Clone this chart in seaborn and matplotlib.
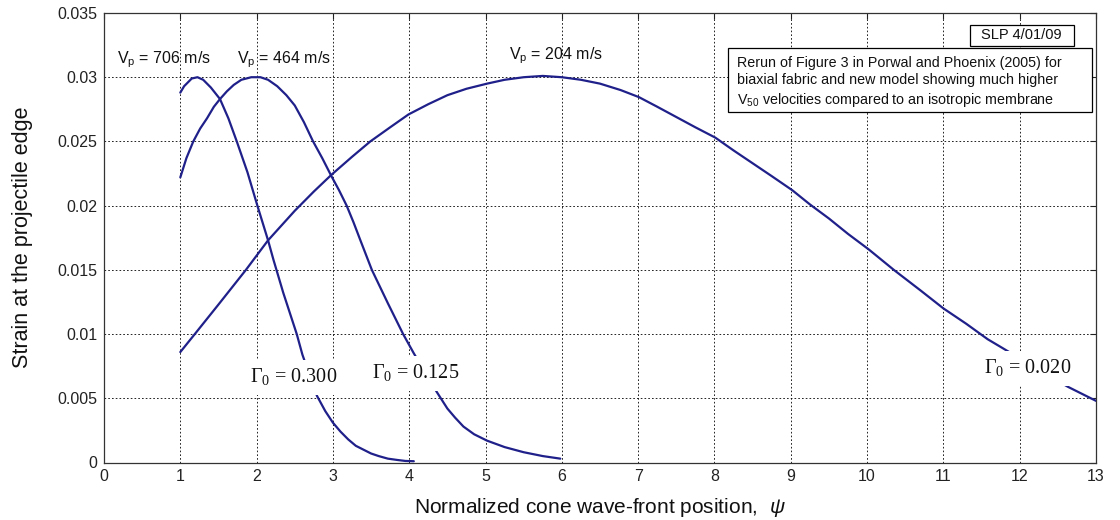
import numpy as np
import pandas as pd
import matplotlib
matplotlib.use("Agg")
import matplotlib.pyplot as plt
from matplotlib.patches import Rectangle
import seaborn as sns

# ---- data ----
psi_a = [1.00, 1.05, 1.10, 1.15, 1.225, 1.30, 1.40, 1.52, 1.63, 1.74, 1.88, 2.01, 2.15, 2.22, 2.35, 2.526,
         2.60, 2.70, 2.79, 2.90, 3.00, 3.10, 3.20, 3.30, 3.40, 3.50, 3.60, 3.72, 3.84, 3.95, 4.06]
eps_a = [0.0288, 0.0293, 0.0296, 0.0299, 0.0300, 0.0298, 0.0292, 0.0283, 0.0268, 0.0250, 0.0226, 0.0200, 0.0173,
         0.0158, 0.0132, 0.0100, 0.0084, 0.0067, 0.0052, 0.0040, 0.0031, 0.0024, 0.0018, 0.0013, 0.0010, 0.0007,
         0.0005, 0.0003, 0.0002, 0.00012, 0.0001]

psi_b = [1.00, 1.08, 1.17, 1.26, 1.35, 1.44, 1.52, 1.61, 1.70, 1.80, 1.93, 2.05, 2.15, 2.27, 2.39, 2.50, 2.62,
         2.74, 2.86, 2.98, 3.08, 3.18, 3.27, 3.36, 3.51, 3.72, 3.92, 4.06, 4.20, 4.36, 4.50, 4.60, 4.71, 4.85,
         5.02, 5.25, 5.50, 5.75, 5.98]
eps_b = [0.0222, 0.0237, 0.0250, 0.0260, 0.0268, 0.0277, 0.0283, 0.0289, 0.0294, 0.0298, 0.0300, 0.0300, 0.0298,
         0.0293, 0.0286, 0.0278, 0.0265, 0.0250, 0.0237, 0.0223, 0.0212, 0.0200, 0.0187, 0.0173, 0.0150, 0.0124,
         0.0100, 0.0085, 0.0071, 0.0055, 0.0042, 0.0035, 0.0028, 0.0022, 0.0017, 0.0012, 0.0008, 0.0005, 0.0003]

psi_c = [1.00, 1.19, 1.50, 1.86, 2.15, 2.50, 2.75, 2.98, 3.25, 3.49, 3.75, 3.99, 4.25, 4.50, 4.75, 5.02, 5.25,
         5.50, 5.75, 6.00, 6.25, 6.50, 6.77, 7.01, 7.25, 7.50, 7.75, 8.01, 8.25, 8.50, 8.75, 9.02, 9.25, 9.50,
         9.75, 10.02, 10.35, 10.70, 11.00, 11.30, 11.58, 11.75, 12.20, 12.63, 13.00]
eps_c = [0.0086, 0.0100, 0.0123, 0.0150, 0.0173, 0.0196, 0.0211, 0.0224, 0.0238, 0.0250, 0.0261, 0.0271, 0.0279,
         0.0286, 0.0291, 0.0295, 0.0298, 0.0300, 0.0301, 0.0300, 0.0298, 0.0295, 0.0290, 0.02845, 0.0277, 0.0269,
         0.0261, 0.0253, 0.0243, 0.0233, 0.0223, 0.0212, 0.0201, 0.0190, 0.0178, 0.0166, 0.0150, 0.0134, 0.0120,
         0.0108, 0.0096, 0.0090, 0.0074, 0.0059, 0.0048]

vp_labels = ["706", "464", "204"]
gamma_labels = ["0.300", "0.125", "0.020"]
x_ticks = list(range(0, 14))
y_ticks = [0, 0.005, 0.01, 0.015, 0.02, 0.025, 0.03, 0.035]
y_tick_labels = ["0", "0.005", "0.01", "0.015", "0.02", "0.025", "0.03", "0.035"]

# ---- style ----
sns.set_style("white")
plt.rcParams["font.family"] = ["Liberation Sans", "DejaVu Sans"]
plt.rcParams["mathtext.fontset"] = "custom"
plt.rcParams["mathtext.rm"] = "Liberation Serif"
plt.rcParams["mathtext.sf"] = "Liberation Sans"
plt.rcParams["mathtext.it"] = "Liberation Sans:italic"

line_color = "#20208a"

df = pd.concat([
    pd.DataFrame({"psi": psi_a, "strain": eps_a, "curve": "a"}),
    pd.DataFrame({"psi": psi_b, "strain": eps_b, "curve": "b"}),
    pd.DataFrame({"psi": psi_c, "strain": eps_c, "curve": "c"}),
])

fig = plt.figure(figsize=(11.2, 5.2), dpi=100)
ax = fig.add_axes([104 / 1120, 1 - 462.5 / 520, (1096 - 104) / 1120, (462.5 - 13) / 520])

sns.lineplot(data=df, x="psi", y="strain", units="curve", estimator=None, sort=False,
             color=line_color, linewidth=1.6, ax=ax, zorder=3)

ax.set_xlim(0, 13)
ax.set_ylim(0, 0.035)
ax.set_xticks(x_ticks)
ax.set_xticklabels([str(t) for t in x_ticks])
ax.set_yticks(y_ticks)
ax.set_yticklabels(y_tick_labels)
ax.tick_params(axis="both", direction="in", length=4, width=0.8, top=True, right=True,
               labelsize=11.5, colors="#222222", pad=5)
ax.grid(True, color="black", linestyle=(0, (2, 2.5)), linewidth=0.6)
ax.set_axisbelow(True)
for s in ax.spines.values():
    s.set_color("#333333")
    s.set_linewidth(0.9)

ax.set_xlabel(r"Normalized cone wave-front position,  $\psi$", fontsize=15, labelpad=8, color="#111111")
ax.set_ylabel("Strain at the projectile edge", fontsize=15.5, labelpad=17, color="#111111")

# V_p labels
vp_pos = [(0.79, 0.0311), (2.36, 0.0311), (5.92, 0.0314)]
for lab, (xx, yy) in zip(vp_labels, vp_pos):
    ax.text(xx, yy, r"V$_\mathsf{p}$ = " + lab + " m/s", ha="center", va="baseline",
            fontsize=11.5, color="#111111")

# Gamma labels
g_pos = [(2.49, 0.0062), (4.09, 0.0065), (12.10, 0.0069)]
for lab, (xx, yy) in zip(gamma_labels, g_pos):
    ax.text(xx, yy, r"$\mathrm{\Gamma}_\mathrm{0}$" + " = " + lab,
            ha="center", va="baseline", fontsize=14.5, color="#111111", zorder=5,
            family=["Liberation Serif", "DejaVu Serif"],
            bbox=dict(facecolor="white", edgecolor="none", boxstyle="square,pad=0.35"))

# Annotation boxes (frames drawn in axes coordinates)
ax.add_patch(Rectangle((0.629, 0.780), 0.367, 0.142, transform=ax.transAxes,
                       facecolor="white", edgecolor="black", linewidth=0.9, zorder=6))
ax.text(0.638, 0.905,
        "Rerun of Figure 3 in Porwal and Phoenix (2005) for\n"
        "biaxial fabric and new model showing much higher\n"
        r"V$_\mathsf{50}$ velocities compared to an isotropic membrane",
        transform=ax.transAxes, ha="left", va="top", fontsize=10.3, linespacing=1.3,
        color="#111111", zorder=7)

ax.add_patch(Rectangle((0.873, 0.9266), 0.105, 0.0467, transform=ax.transAxes,
                       facecolor="white", edgecolor="black", linewidth=0.9, zorder=6))
ax.text(0.925, 0.950, "SLP 4/01/09", transform=ax.transAxes, ha="center", va="center",
        fontsize=10.5, color="#111111", zorder=7)

fig.savefig("out.png", dpi=100, facecolor="white")
